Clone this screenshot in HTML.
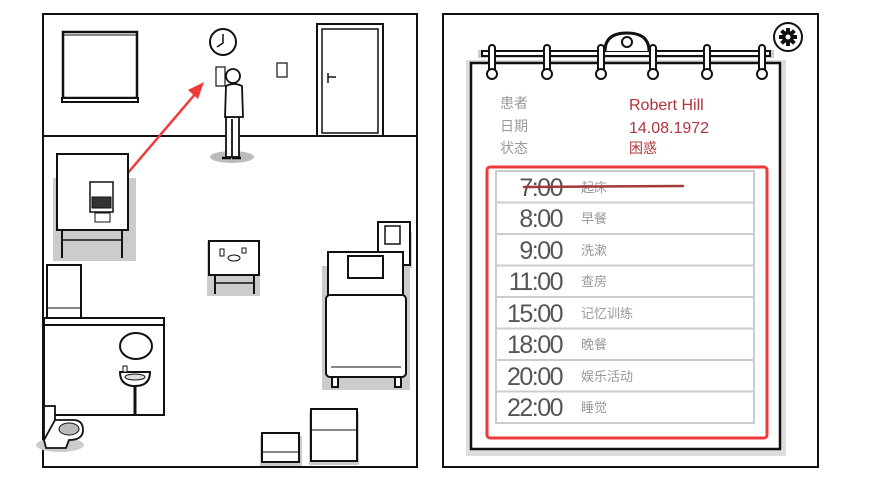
<!DOCTYPE html>
<html><head><meta charset="utf-8"><style>
html,body{margin:0;padding:0;background:#fff;}
svg{display:block;}
.t{font-family:"Liberation Sans Narrow","Liberation Sans",sans-serif;fill:#555;font-size:25px;text-anchor:end;letter-spacing:-1.5px;}
.c{font-family:"Liberation Sans","Noto Sans CJK SC",sans-serif;fill:#999;font-size:13px;}
.l{font-family:"Liberation Sans","Noto Sans CJK SC",sans-serif;fill:#999;font-size:14px;}
.r{font-family:"Liberation Sans Narrow","Liberation Sans","Noto Sans CJK SC",sans-serif;fill:#b0343a;font-size:16px;}
</style></head><body>
<svg width="869" height="486" viewBox="0 0 869 486" xmlns="http://www.w3.org/2000/svg">
<g fill="none" stroke="#111" stroke-width="2">
<!-- left panel -->
<rect x="43" y="14" width="374" height="453" fill="#fff"/>
<line x1="43" y1="136" x2="417" y2="136"/>
<!-- window -->
<rect x="63" y="32" width="74" height="66" stroke-width="2.5"/>
<rect x="62" y="98" width="76" height="4" fill="#fff"/>
<line x1="64" y1="35" x2="136" y2="35" stroke-width="1"/>
<!-- clock -->
<circle cx="223" cy="42" r="13" fill="#fff"/>
<polyline points="223,34 223,43 217,47" stroke-width="1.5"/>
<!-- door -->
<rect x="317" y="24" width="66" height="112"/>
<rect x="322" y="29" width="56" height="104" stroke-width="1.5"/>
<path d="M328,73 v10 M328,77 h8" stroke-width="1.5"/>
<!-- switch -->
<rect x="277" y="63" width="10" height="14" stroke-width="1.2"/>
<!-- paper -->
<rect x="216" y="67" width="9" height="19" stroke-width="1.2"/>
</g>
<!-- person -->
<ellipse cx="232" cy="157" rx="22" ry="6" fill="#bbb"/>
<g fill="#fff" stroke="#111" stroke-width="1.8">
<rect x="226" y="117" width="13" height="40"/>
<line x1="232" y1="119" x2="232" y2="156"/>
<path d="M226,86 Q234,82 242,86 L243,117 L225,117 Z"/>
<circle cx="233" cy="76" r="7"/>
<path d="M222,158 h9 M232,158 h9" stroke-width="2.5"/>
</g>
<!-- arrow -->
<line x1="127" y1="174" x2="196" y2="93" stroke="#f03a3a" stroke-width="2.5"/>
<polygon points="204,82 188,90 198,99" fill="#f03a3a"/>
<!-- cabinet -->
<rect x="53" y="178" width="83" height="83" fill="#ccc"/>
<g fill="#fff" stroke="#111" stroke-width="2">
<rect x="57" y="154" width="71" height="76"/>
<line x1="62" y1="230" x2="62" y2="258"/><line x1="122" y1="230" x2="122" y2="258"/>
<line x1="62" y1="240" x2="122" y2="240" stroke-width="1.5"/>
<rect x="90" y="182" width="23" height="30" stroke-width="1.5"/>
<rect x="92" y="197" width="19" height="11" fill="#333" stroke-width="1"/>
<rect x="95" y="213" width="15" height="9" stroke-width="1"/>
</g>
<!-- small table -->
<rect x="207" y="241" width="53" height="55" fill="#ccc"/>
<g fill="#fff" stroke="#111" stroke-width="2">
<rect x="209" y="241" width="50" height="34"/>
<line x1="215" y1="275" x2="215" y2="294"/><line x1="254" y1="275" x2="254" y2="294"/>
<line x1="215" y1="283" x2="254" y2="283" stroke-width="1.5"/>
<rect x="220" y="249" width="4" height="7" stroke-width="1"/>
<ellipse cx="234" cy="258" rx="6" ry="3" stroke-width="1"/>
<rect x="242" y="248" width="4" height="5" stroke-width="1"/>
</g>
<!-- nightstand & bed -->
<rect x="380" y="232" width="32" height="36" fill="#ccc"/>
<rect x="322" y="266" width="88" height="124" fill="#ccc"/>
<g fill="#fff" stroke="#111" stroke-width="2">
<rect x="378" y="222" width="32" height="43"/>
<rect x="385" y="226" width="15" height="18" stroke-width="1.5"/>
<rect x="328" y="252" width="75" height="50"/>
<rect x="348" y="256" width="35" height="22"/>
<rect x="332" y="376" width="6" height="11"/><rect x="395" y="376" width="6" height="11"/>
<rect x="326" y="295" width="80" height="82" rx="4"/>
<line x1="331" y1="367" x2="401" y2="367" stroke-width="1"/>
</g>
<!-- wardrobe -->
<g fill="#fff" stroke="#111" stroke-width="2">
<rect x="47" y="265" width="34" height="55"/>
<line x1="48" y1="308" x2="80" y2="308" stroke-width="1"/>
<!-- bathroom -->
<rect x="44" y="318" width="120" height="97"/>
<line x1="44" y1="325" x2="164" y2="325"/>
<ellipse cx="136" cy="346" rx="16" ry="13"/>
<path d="M120,372 h30 q0,14 -15,14 q-15,0 -15,-14 z"/>
<ellipse cx="135" cy="377" rx="10" ry="3" stroke-width="1" fill="#ddd"/>
<line x1="135" y1="386" x2="135" y2="414" stroke-width="3"/>
<rect x="123" y="366" width="4" height="6" stroke-width="1"/>
</g>
<ellipse cx="60" cy="445" rx="24" ry="7" fill="#ccc"/>
<g fill="#fff" stroke="#111" stroke-width="1.8">
<rect x="44" y="406" width="11" height="34"/>
<path d="M55,420 h18 q10,0 10,10 q0,10 -14,10 l-3,8 h-20 l-2,-8 z"/>
<ellipse cx="69" cy="429" rx="10" ry="6" fill="#bbb" stroke-width="1"/>
</g>
<!-- boxes -->
<rect x="260" y="436" width="42" height="30" fill="#ccc"/>
<rect x="309" y="412" width="50" height="53" fill="#ccc"/>
<g fill="#fff" stroke="#111" stroke-width="2">
<rect x="262" y="433" width="37" height="29"/>
<line x1="263" y1="452" x2="298" y2="452" stroke-width="1"/>
<rect x="311" y="409" width="46" height="52"/>
<line x1="312" y1="430" x2="356" y2="430" stroke-width="1"/>
</g>

<!-- right panel -->
<rect x="443" y="14" width="375" height="453" fill="#fff" stroke="#111" stroke-width="2"/>
<circle cx="788" cy="37" r="14" fill="#fff" stroke="#111" stroke-width="2"/>
<g transform="translate(788,37)" fill="#111">
<circle r="6"/>
<rect x="-2" y="-9" width="4" height="18"/><rect x="-9" y="-2" width="18" height="4"/>
<rect x="-2" y="-9" width="4" height="18" transform="rotate(45)"/><rect x="-2" y="-9" width="4" height="18" transform="rotate(-45)"/>
<circle r="2.5" fill="#fff"/>
</g>
<!-- page -->
<rect x="466" y="60" width="320" height="396" fill="#ddd"/>
<rect x="471" y="63" width="309" height="386" fill="#fff" stroke="#111" stroke-width="2.5"/>
<!-- spiral -->
<rect x="478" y="50" width="296" height="8" fill="#ccc"/>
<rect x="482" y="51" width="288" height="5" fill="#fff" stroke="#111" stroke-width="2"/>
<path d="M605,51 q0,-18 22,-18 q22,0 22,18" fill="#fff" stroke="#111" stroke-width="3"/>
<circle cx="627" cy="42" r="5" fill="#fff" stroke="#111" stroke-width="2"/>
<g fill="#fff" stroke="#111" stroke-width="2">
<rect x="489" y="45" width="6" height="27" rx="3"/><circle cx="492" cy="74" r="5"/>
<rect x="544" y="45" width="6" height="27" rx="3"/><circle cx="547" cy="74" r="5"/>
<rect x="598" y="45" width="6" height="27" rx="3"/><circle cx="601" cy="74" r="5"/>
<rect x="650" y="45" width="6" height="27" rx="3"/><circle cx="653" cy="74" r="5"/>
<rect x="704" y="45" width="6" height="27" rx="3"/><circle cx="707" cy="74" r="5"/>
<rect x="759" y="45" width="6" height="27" rx="3"/><circle cx="762" cy="74" r="5"/>
</g>
<text x="500" y="108" class="l">患者</text>
<text x="500" y="131" class="l">日期</text>
<text x="500" y="153" class="l">状态</text>
<text x="629" y="110" class="r">Robert Hill</text>
<text x="629" y="133" class="r">14.08.1972</text>
<text x="629" y="153" class="r" style="font-size:14px">困惑</text>
<!-- table -->
<rect x="496" y="171" width="258" height="252" fill="#fff" stroke="#ccc" stroke-width="2"/>
<g stroke="#ccc" stroke-width="2">
<line x1="496" y1="202.5" x2="754" y2="202.5"/><line x1="496" y1="234" x2="754" y2="234"/>
<line x1="496" y1="265.5" x2="754" y2="265.5"/><line x1="496" y1="297" x2="754" y2="297"/>
<line x1="496" y1="328.5" x2="754" y2="328.5"/><line x1="496" y1="360" x2="754" y2="360"/>
<line x1="496" y1="391.5" x2="754" y2="391.5"/>
</g>
<text x="562" y="196" class="t">7:00</text><text x="581" y="192" class="c">起床</text>
<text x="562" y="227" class="t">8:00</text><text x="581" y="223" class="c">早餐</text>
<text x="562" y="259" class="t">9:00</text><text x="581" y="255" class="c">洗漱</text>
<text x="562" y="290" class="t">11:00</text><text x="581" y="286" class="c">查房</text>
<text x="562" y="322" class="t">15:00</text><text x="581" y="318" class="c">记忆训练</text>
<text x="562" y="353" class="t">18:00</text><text x="581" y="349" class="c">晚餐</text>
<text x="562" y="385" class="t">20:00</text><text x="581" y="381" class="c">娱乐活动</text>
<text x="562" y="416" class="t">22:00</text><text x="581" y="412" class="c">睡觉</text>
<line x1="524" y1="187" x2="683" y2="186" stroke="#a33a3a" stroke-width="2.5" stroke-linecap="round"/>
<rect x="487" y="167" width="280" height="271" rx="3" fill="none" stroke="#ee3a3a" stroke-width="3"/>
</svg>
</body></html>
